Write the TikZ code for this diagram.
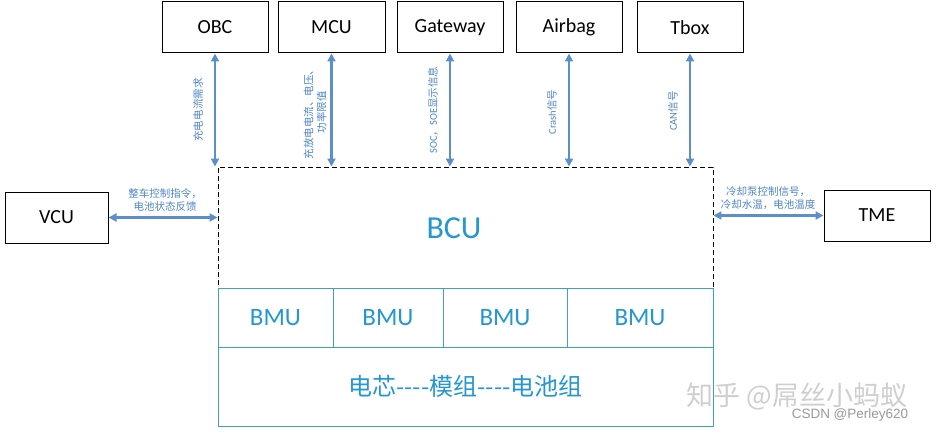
\documentclass[tikz,border=0pt]{standalone}
\usepackage{fontspec}
\setmainfont{Carlito}
\newfontfamily\cjk{Noto Sans CJK SC}
\newfontfamily\latf{Carlito}
\newfontfamily\arialf{Liberation Sans}
\usetikzlibrary{arrows.meta}
\definecolor{arrowblue}{HTML}{5B8FCA}
\definecolor{labelblue}{HTML}{4F86C6}
\definecolor{bcublue}{HTML}{2497D3}
\definecolor{cellline}{HTML}{3FA0C4}
\definecolor{wmgray}{HTML}{CFCFCF}
\definecolor{wmgray2}{HTML}{9A9A9A}
\begin{document}
\begin{tikzpicture}[x=1pt,y=-1pt,
 ecu/.style={draw=black, line width=1pt, minimum width=106pt, minimum height=51pt, inner sep=0pt, font=\fontsize{20}{20}\selectfont},
 link/.style={draw=arrowblue, line width=2.4pt, {Triangle[length=8pt,width=8pt]}-{Triangle[length=8pt,width=8pt]}},
 sig/.style={text=labelblue, font=\cjk\fontsize{10.5}{13}\selectfont, align=center, inner sep=0pt},
 cell/.style={draw=cellline, line width=1pt, minimum height=59pt, inner sep=0pt, text=bcublue, font=\fontsize{25}{25}\selectfont},
]
\useasboundingbox[fill=white] (0,0) rectangle (936,433);

% top ECUs
\node[ecu] (obc) at (215,27.5) {OBC};
\node[ecu, minimum width=107pt] (mcu) at (331.5,27.5) {MCU};
\node[ecu] (gw) at (450,27.5) {Gateway};
\node[ecu] (air) at (569,27.5) {Airbag};
\node[ecu] (tbox) at (690,27.5) {Tbox};

% side ECUs
\node[ecu, minimum width=103pt] (vcu) at (56.5,217.5) {VCU};
\node[ecu] (tme) at (877,215.5) {TME};

% BCU dashed region
\node[draw=black, dashed, dash pattern=on 5pt off 3pt, line width=0.9pt, minimum width=495pt, minimum height=121pt, inner sep=0pt] (bcu) at (465.5,227.5) {};
\node[text=bcublue, font=\fontsize{32}{32}\selectfont, inner sep=0pt] (bcutxt) at (454,228) {BCU};

% BMU row
\node[cell, minimum width=115pt] (bmu1) at (275.5,317.5) {BMU};
\node[cell, minimum width=110pt] (bmu2) at (388,317.5) {BMU};
\node[cell, minimum width=124pt] (bmu3) at (505,317.5) {BMU};
\node[cell, minimum width=146pt] (bmu4) at (640,317.5) {BMU};
\node[cell, minimum width=495pt, minimum height=79pt, font=\cjk\fontsize{24}{24}\selectfont] (pack) at (465.5,386.5) {电芯----模组----电池组};

% connectors
\draw[link] (obc.south) -- (obc.south |- bcu.north);
\draw[link] (mcu.south) -- (mcu.south |- bcu.north);
\draw[link] (gw.south) -- (gw.south |- bcu.north);
\draw[link] (air.south) -- (air.south |- bcu.north);
\draw[link] (tbox.south) -- (tbox.south |- bcu.north);
\draw[link] (vcu.east) -- (vcu.east -| bcu.west);
\draw[link] (tme.west) -- (tme.west -| bcu.east);

% signal labels
\node[sig, rotate=90] (lobc) at (198,110) {充电电流需求};
\node[sig, rotate=90] (lmcu) at (315,112) {充放电电流、电压、\\功率限值};
\node[sig, rotate=90] (lgw) at (433,110) {{\latf SOC}，{\latf SOE}显示信息};
\node[sig, rotate=90] (lair) at (552,112) {{\latf Crash}信号};
\node[sig, rotate=90] (ltbox) at (673,111) {{\latf CAN}信号};
\node[sig] (lvcu) at (165,200) {整车控制指令，\\电池状态反馈};
\node[sig] (ltme) at (768,198) {冷却泵控制信号，\\冷却水温，电池温度};

% watermark
\node[text=wmgray, font=\cjk\fontsize{27}{27}\selectfont, inner sep=0pt] (wm1) at (797,396) {知乎 @屌丝小蚂蚁};
\node[text=wmgray2, font=\arialf\fontsize{13.5}{13.5}\selectfont, inner sep=0pt] (wm2) at (850,415) {CSDN @Perley620};
\end{tikzpicture}
\end{document}
